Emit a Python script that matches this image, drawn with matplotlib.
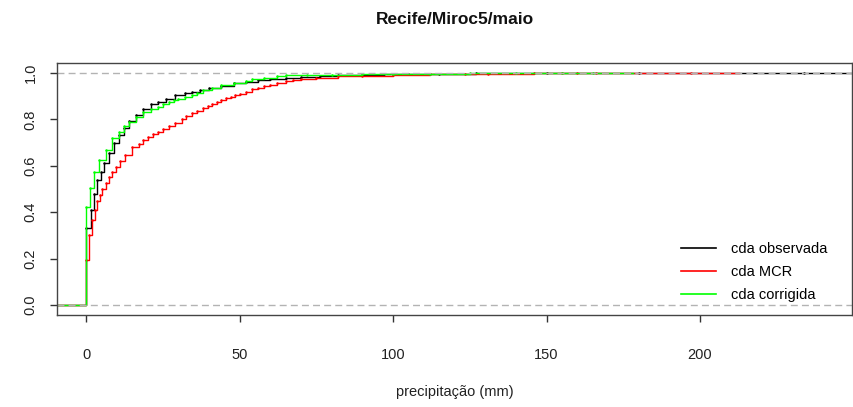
import matplotlib
matplotlib.use("Agg")
import matplotlib.pyplot as plt
import numpy as np

plt.rcParams['font.family'] = ['Liberation Sans', 'DejaVu Sans']

# ecdf knots (precipitation in mm, cumulative share)
obs_x = [0, 1.4, 2.5, 3.6, 4.7, 5.8, 7.4, 9.0, 10.6, 12.2, 13.9, 16, 18.5, 21, 23.4, 26,
         29, 32, 34.3, 37, 40, 44, 48, 52, 56, 60, 65, 70, 76, 82, 90, 97, 105, 115,
         127, 150, 180, 234]
obs_y = [0.33, 0.41, 0.48, 0.54, 0.575, 0.61, 0.654, 0.697, 0.733, 0.765, 0.795, 0.82,
         0.845, 0.865, 0.876, 0.89, 0.905, 0.913, 0.919, 0.928, 0.937, 0.946, 0.955,
         0.962, 0.968, 0.972, 0.977, 0.982, 0.987, 0.99, 0.993, 0.995, 0.996, 0.997,
         0.998, 0.9985, 0.999, 1.0]

mcr_x = [0, 0.9, 1.9, 2.8, 3.6, 4.4, 5.2, 6.3, 7.4, 8.4, 9.5, 11, 12.7, 14.9, 17, 18.5,
         20, 21.7, 23.4, 25, 27, 29, 31, 32.6, 34.3, 36, 38, 39.5, 41, 42.5, 44, 45.5,
         47, 48.5, 50, 52, 54, 56, 58, 60, 62, 65, 67.5, 70, 75, 82, 90, 100,
         112, 123.5, 131, 146, 155, 160, 166, 197]
mcr_y = [0.194, 0.30, 0.366, 0.41, 0.45, 0.475, 0.50, 0.527, 0.553, 0.575, 0.596, 0.622,
         0.647, 0.68, 0.695, 0.71, 0.723, 0.736, 0.747, 0.76, 0.772, 0.786, 0.80, 0.813,
         0.826, 0.837, 0.848, 0.858, 0.868, 0.876, 0.884, 0.891, 0.897, 0.904, 0.91,
         0.92, 0.93, 0.937, 0.943, 0.949, 0.955, 0.966, 0.97, 0.974, 0.98, 0.985, 0.989,
         0.992, 0.994, 0.996, 0.997, 0.998, 0.9985, 0.999, 0.9993, 1.0]

cor_x = [0, 1.1, 2.5, 4.1, 6.3, 8.4, 10.6, 12.2, 13.9, 16, 18.5, 21, 23.4, 25, 27, 28.5,
         30, 32, 34.3, 36, 38, 41, 44, 48, 52, 54, 58, 62, 65, 72, 80, 90, 100, 112,
         125, 140, 155, 165]
cor_y = [0.424, 0.504, 0.575, 0.625, 0.668, 0.718, 0.747, 0.77, 0.79, 0.81, 0.83, 0.845,
         0.855, 0.865, 0.875, 0.883, 0.89, 0.898, 0.905, 0.915, 0.925, 0.937, 0.948,
         0.958, 0.966, 0.973, 0.98, 0.985, 0.99, 0.992, 0.993, 0.995, 0.996, 0.997,
         0.998, 0.9985, 0.999, 1.0]

labels = ["cda observada", "cda MCR", "cda corrigida"]
colors = ["black", "#ff0000", "#00ff00"]
xlim = (0, 240)

fig = plt.figure(figsize=(8.54, 4.07), dpi=100)
ax = fig.add_axes([57/854, 1-315/407, 795/854, 252/407])


def draw_ecdf(xs, ys, col, dr=None):
    xs = np.array(xs, dtype=float)
    if dr is None:
        dr = 0.08 * (xs.max() - xs.min())
    tx = np.concatenate([[xs.min() - dr], xs, [xs.max() + dr]])
    ty = np.concatenate([[0.0], ys, [ys[-1]]])
    ax.step(tx, ty, where='post', color=col, lw=1.0)
    ax.plot(xs, ys, 'o', color=col, ms=1.8, mew=0)


# first plot gets explicit xlim, so its line runs across the whole panel
draw_ecdf(obs_x, obs_y, colors[0], dr=xlim[1] - xlim[0])
draw_ecdf(mcr_x, mcr_y, colors[1])
draw_ecdf(cor_x, cor_y, colors[2])

for h in (0, 1):
    ax.axhline(h, color='#b3b3b3', lw=1.0, dashes=(5, 3))

span = xlim[1] - xlim[0]
ax.set_xlim(xlim[0] - 0.04*span, xlim[1] + 0.04*span)
ax.set_ylim(-0.043, 1.043)
ax.set_xticks([0, 50, 100, 150, 200])
ax.set_yticks([0, 0.2, 0.4, 0.6, 0.8, 1.0])
ax.set_yticklabels(["0.0", "0.2", "0.4", "0.6", "0.8", "1.0"], rotation=90, va='center')
ax.tick_params(axis='both', direction='out', length=5, width=1, color='#333333',
               labelsize=10.5, labelcolor='#222222')
ax.tick_params(axis='x', pad=19)
ax.tick_params(axis='y', pad=9)
for s in ax.spines.values():
    s.set_color('#444444')
    s.set_linewidth(1.0)

fig.text(455/854, 1-19/407, "Recife/Miroc5/maio", ha='center', va='center',
         fontsize=12.5, fontweight='bold', color='#111111')
fig.text(455/854, 1-392/407, "precipitação (mm)", ha='center', va='center',
         fontsize=10.5, color='#222222')

handles = [plt.Line2D([], [], color=c, lw=1.2) for c in colors]
fig.legend(handles, labels, loc='upper left', bbox_to_anchor=(681/854, 1-242/407),
           frameon=False, fontsize=10.5, handlelength=2.4, handletextpad=1.0,
           labelspacing=0.62, borderpad=0, borderaxespad=0)

fig.savefig("out.png", dpi=100)
